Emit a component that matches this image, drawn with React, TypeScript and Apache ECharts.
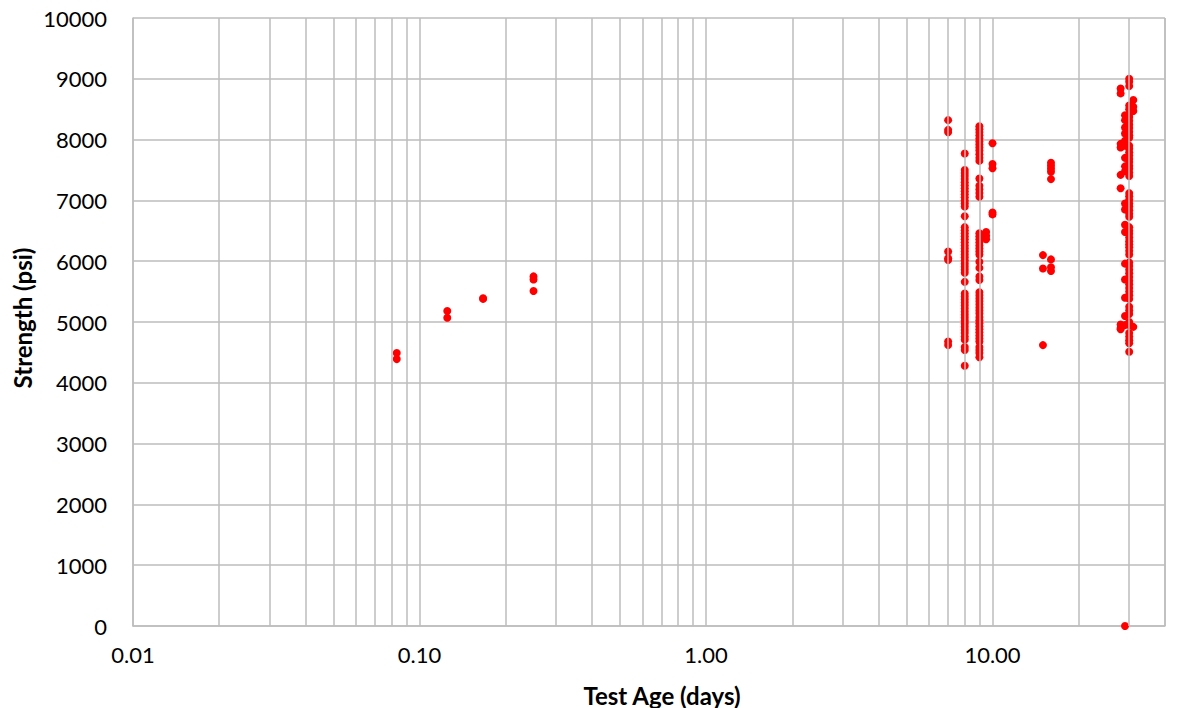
import React, { useEffect, useRef } from "react";
import * as echarts from "echarts";

// Compressive strength results by test age (days) — hourly and daily breaks
const ageHours2 = 0.0833;
const ageHours3 = 0.125;
const ageHours4 = 0.1667;
const ageHours6 = 0.25;

const strength2h = [4490, 4390];
const strength3h = [5180, 5070];
const strength4h = [5390, 5380];
const strength6h = [5750, 5700, 5510];

const strength7d = [8320, 8160, 8120, 6160, 6050, 6020, 4680, 4620];
const strength8d = [
  7770, 7500, 7450, 7400, 7350, 7300, 7250, 7200, 7150, 7100, 7050, 7000, 6950, 6900,
  6740, 6560, 6510, 6460, 6410, 6360, 6310, 6260, 6210, 6160, 6110, 6060, 6010, 5960,
  5910, 5860, 5810, 5660, 5470, 5420, 5370, 5320, 5270, 5220, 5170, 5120, 5070, 5020,
  4970, 4920, 4870, 4820, 4760, 4710, 4590, 4540, 4280,
];
const strength9d = [
  8220, 8170, 8120, 8070, 8020, 7970, 7920, 7870, 7820, 7760, 7700, 7650, 7360, 7240,
  7180, 7120, 7060, 6460, 6410, 6360, 6310, 6260, 6210, 6160, 6110, 5990, 5890, 5750,
  5690, 5490, 5440, 5390, 5340, 5290, 5240, 5190, 5140, 5080, 5030, 4980, 4930, 4880,
  4830, 4780, 4730, 4680, 4590, 4540, 4490, 4420,
];
const strength9_5d = [6480, 6420, 6360];
const strength10d = [7940, 7600, 7530, 6800, 6770];
const strength15d = [6100, 5880, 4620];
const strength16d = [7620, 7570, 7520, 7470, 7350, 6030, 5900, 5840];
const strength28d = [8840, 8760, 7930, 7870, 7420, 7200, 4960, 4900, 4880];
const strength29d = [
  8400, 8320, 8200, 8100, 7980, 7900, 7700, 7560, 7480, 6950, 6850, 6600, 6480, 5960,
  5700, 5400, 5100, 4950, 0,
];
const strength30d = [
  9000, 8950, 8880, 8560, 8500, 8420, 8370, 8310, 8250, 8190, 8130, 8070, 8030, 7900,
  7850, 7790, 7740, 7680, 7630, 7570, 7520, 7460, 7400, 7120, 7070, 7010, 6950, 6900,
  6840, 6780, 6730, 6560, 6500, 6450, 6390, 6330, 6280, 6230, 6170, 6110, 5980, 5920,
  5860, 5800, 5740, 5680, 5620, 5560, 5500, 5440, 5380, 5250, 5190, 5130, 5000, 4950,
  4820, 4760, 4700, 4650, 4510,
];
const strength31d = [8650, 8540, 8470, 4920];

const groups: [number, number[]][] = [
  [ageHours2, strength2h],
  [ageHours3, strength3h],
  [ageHours4, strength4h],
  [ageHours6, strength6h],
  [7, strength7d],
  [8, strength8d],
  [9, strength9d],
  [9.5, strength9_5d],
  [10, strength10d],
  [15, strength15d],
  [16, strength16d],
  [28, strength28d],
  [29, strength29d],
  [30, strength30d],
  [31, strength31d],
];

// Intermediate log-scale gridlines (2..9 in each decade, up to 40)
const minorGridAges = [
  0.02, 0.03, 0.04, 0.05, 0.06, 0.07, 0.08, 0.09,
  0.2, 0.3, 0.4, 0.5, 0.6, 0.7, 0.8, 0.9,
  2, 3, 4, 5, 6, 7, 8, 9,
  20, 30, 40,
];

const yTicks = { min: 0, max: 10000, interval: 1000 };
const xRange = { min: 0.01, max: 40 };

const FONT = "Lato, 'Open Sans', sans-serif";
const GRID_COLOR = "#bdbdbd";
const GRID_WIDTH = 1.5;

export default function App() {
  const ref = useRef<HTMLDivElement>(null);

  useEffect(() => {
    if (!ref.current) return;
    const chart = echarts.init(ref.current, undefined, { renderer: "svg" });

    const points: [number, number][] = [];
    groups.forEach(([age, vals]) => vals.forEach((v) => points.push([age, v])));

    chart.setOption({
      animation: false,
      backgroundColor: "#ffffff",
      grid: {
        left: 133,
        right: 18,
        top: 18,
        bottom: 82,
        containLabel: false,
        outerBoundsMode: "none",
      },
      xAxis: {
        type: "log",
        logBase: 10,
        min: xRange.min,
        max: xRange.max,
        axisLine: { show: true, lineStyle: { color: GRID_COLOR, width: GRID_WIDTH } },
        axisTick: { show: false },
        splitLine: { show: true, lineStyle: { color: GRID_COLOR, width: GRID_WIDTH } },
        axisLabel: {
          color: "#000",
          fontFamily: FONT,
          fontSize: 22,
          margin: 17,
          formatter: (v: number) => {
            const e = Math.log10(v);
            if (Math.abs(e - Math.round(e)) > 1e-6) return "";
            return Math.pow(10, Math.round(e)).toFixed(2);
          },
        },
      },
      yAxis: {
        type: "value",
        min: yTicks.min,
        max: yTicks.max,
        interval: yTicks.interval,
        axisLine: { show: true, lineStyle: { color: GRID_COLOR, width: GRID_WIDTH } },
        axisTick: { show: false },
        splitLine: { show: true, lineStyle: { color: GRID_COLOR, width: GRID_WIDTH } },
        axisLabel: {
          color: "#000",
          fontFamily: FONT,
          fontSize: 22,
          margin: 26,
          formatter: (v: number) => String(Math.round(v)),
        },
      },
      graphic: [
        {
          type: "text",
          x: 662,
          y: 695,
          style: {
            text: "Test Age (days)",
            fill: "#000",
            font: `bold 24px ${FONT}`,
            textAlign: "center",
            textVerticalAlign: "middle",
          },
        },
        {
          type: "text",
          x: 22,
          y: 318,
          rotation: Math.PI / 2,
          style: {
            text: "Strength (psi)",
            fill: "#000",
            font: `bold 24px ${FONT}`,
            textAlign: "center",
            textVerticalAlign: "middle",
          },
        },
      ],
      series: [
        {
          type: "scatter",
          data: [],
          z: 1,
          silent: true,
          markLine: {
            silent: true,
            symbol: ["none", "none"],
            label: { show: false },
            emphasis: { disabled: true },
            lineStyle: { color: GRID_COLOR, type: "solid", width: GRID_WIDTH },
            data: minorGridAges.map((a) => ({ xAxis: a })),
          },
        },
        {
          type: "scatter",
          z: 3,
          symbol: "circle",
          symbolSize: 8,
          itemStyle: { color: "#ff0000", opacity: 1 },
          data: points,
        },
      ],
    });

    return () => chart.dispose();
  }, []);

  return <div ref={ref} style={{ width: 1183, height: 708, position: "absolute", left: 0, top: 0 }} />;
}
